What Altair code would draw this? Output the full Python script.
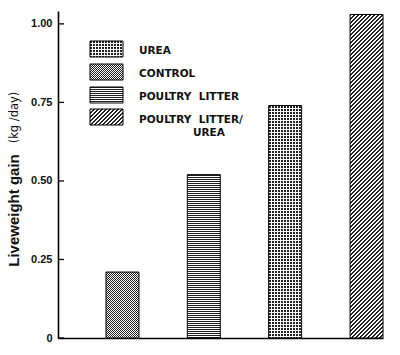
import math
import altair as alt
import pandas as pd

# ---- data ----
treatments = ["CONTROL", "POULTRY LITTER", "UREA", "POULTRY LITTER/UREA"]
gains = [0.21, 0.52, 0.74, 1.03]
patterns = ["fine", "horizontal", "coarse", "diagonal"]

legend_patterns = ["coarse", "fine", "horizontal", "diagonal"]
legend_lines = [["UREA"], ["CONTROL"], ["POULTRY\u00a0\u00a0LITTER"], ["POULTRY\u00a0\u00a0LITTER/", "UREA"]]

y_tick_values = [0, 0.25, 0.5, 0.75, 1.0]
y_title = "Liveweight  gain"
y_unit = "(kg /day)"

# ---- layout / style ----
W, H = 325, 327
Y_MAX = 1.041
P_INNER, P_OUTER = 0.595, 0.295
STEP = W / (len(treatments) - P_INNER + 2 * P_OUTER)
BAND = STEP * (1 - P_INNER)
DARK = "#222222"
LIGHT = "#ffffff"
CLEAR = "rgba(255,255,255,0)"


def stripes(n, x2, y2, duty, on=DARK, off=LIGHT):
    stops = []
    for i in range(n):
        a = i / n
        b = (i + duty) / n
        c = (i + 1) / n
        stops += [
            {"offset": a, "color": on},
            {"offset": b, "color": on},
            {"offset": b, "color": off},
            {"offset": c, "color": off},
        ]
    return {"gradient": "linear", "stops": stops, "x1": 0, "y1": 0, "x2": x2, "y2": y2}


# gradient coordinates are in the mark's bounding box; choose vectors so that
# one stripe period is an exact number of pixels (avoids aliasing beats)
def vertical(w, h, pitch, duty, on=DARK, off=LIGHT):
    n = math.ceil(w / pitch)
    return stripes(n, n * pitch / w, 0, duty, on, off)


def horizontal(w, h, pitch, duty, on=DARK, off=LIGHT):
    n = math.ceil(h / pitch)
    return stripes(n, 0, n * pitch / h, duty, on, off)


def diagonal(w, h, pitch, duty):
    n = math.ceil((w + h) / pitch)
    x2 = n * pitch * w / (w * w + h * h)
    return stripes(n, x2, x2 * h / w, duty)


def pattern_fills(kind, w, h):
    if kind == "horizontal":
        return [horizontal(w, h, 2, 0.5)]
    if kind == "diagonal":
        return [diagonal(w, h, 4, 0.5)]
    if kind == "fine":
        return [diagonal(w, h, 2, 0.5)]  # pixel checkerboard
    # coarse dots: vertical dark stripes masked by horizontal white stripes
    return [vertical(w, h, 3, 0.67),
            horizontal(w, h, 3, 0.67, on=CLEAR, off=LIGHT)]


df = pd.DataFrame({"treatment": treatments, "gain": gains})

x_enc = alt.X(
    "treatment:N",
    scale=alt.Scale(domain=treatments, paddingInner=P_INNER, paddingOuter=P_OUTER, align=1),
    axis=alt.Axis(labels=False, ticks=False, title=None, domainColor="black",
                  domainWidth=1.6, grid=False),
)
y_enc = alt.Y(
    "gain:Q",
    scale=alt.Scale(domain=[0, Y_MAX], nice=False, zero=True),
    axis=alt.Axis(
        values=y_tick_values,
        labelExpr="datum.value == 0 ? '0' : format(datum.value, '.2f')",
        ticks=False, tickSize=0, grid=False,
        domainColor="black", domainWidth=1.6,
        labelFont="Liberation Sans", labelFontSize=11, labelFontWeight="bold",
        labelColor="#111", labelPadding=6,
        title=y_title, titleFont="Liberation Sans", titleFontSize=15,
        titleFontWeight="bold", titleColor="#111", titleAngle=270,
        titleX=-39.5, titleY=199, titleAlign="center", titleBaseline="alphabetic",
    ),
)

layers = []
for t, g, kind in zip(treatments, gains, patterns):
    h = g / Y_MAX * H
    for fill in pattern_fills(kind, BAND, h):
        layers.append(
            alt.Chart(df).transform_filter(alt.datum.treatment == t)
            .mark_bar(fill=fill).encode(x=x_enc, y=y_enc)
        )

# bar outlines
layers.append(
    alt.Chart(df).mark_bar(fillOpacity=0, stroke="black", strokeWidth=1).encode(x=x_enc, y=y_enc)
)

# inward y ticks
ticks_df = pd.DataFrame({"gain": y_tick_values})
layers.append(
    alt.Chart(ticks_df).mark_rule(color="black", strokeWidth=1.3)
    .encode(y=alt.Y("gain:Q", scale=alt.Scale(domain=[0, Y_MAX], nice=False)),
            x=alt.value(0), x2=alt.value(6))
)

# unit part of the y title
layers.append(
    alt.Chart(pd.DataFrame({"t": [y_unit]})).mark_text(
        angle=270, font="DejaVu Sans", fontSize=11.5, color="#111",
        align="center", baseline="alphabetic")
    .encode(text="t:N", x=alt.value(-40.5), y=alt.value(106.5))
)

# manual legend
SW_X0, SW_X1, SW_H = 32, 65, 16
sw_tops = [30, 53, 76, 98]
txt_y = [40, 63, 86, 109]
for kind, lines, top, ty in zip(legend_patterns, legend_lines, sw_tops, txt_y):
    one = pd.DataFrame({"k": [kind]})
    for fill in pattern_fills(kind, SW_X1 - SW_X0, SW_H):
        layers.append(
            alt.Chart(one).mark_rect(fill=fill).encode(
                x=alt.value(SW_X0), x2=alt.value(SW_X1),
                y=alt.value(top), y2=alt.value(top + SW_H))
        )
    layers.append(
        alt.Chart(one).mark_rect(fillOpacity=0, stroke="black", strokeWidth=1).encode(
            x=alt.value(SW_X0), x2=alt.value(SW_X1),
            y=alt.value(top), y2=alt.value(top + SW_H))
    )
    for j, line in enumerate(lines):
        layers.append(
            alt.Chart(pd.DataFrame({"t": [line]})).mark_text(
                font="DejaVu Sans", fontSize=10.5, fontWeight="bold", color="#111",
                align="left", baseline="middle")
            .encode(text="t:N", x=alt.value(81 if j == 0 else 135),
                    y=alt.value(ty + 13 * j))
        )

chart = (
    alt.layer(*layers)
    .properties(width=W, height=H,
                padding={"left": 58, "top": 11, "right": 17, "bottom": 17},
                autosize=alt.AutoSizeParams(type="none"),
                background="white")
    .configure_view(stroke=None)
)

chart.save("out.html", embed_options={"renderer": "svg", "actions": False})
